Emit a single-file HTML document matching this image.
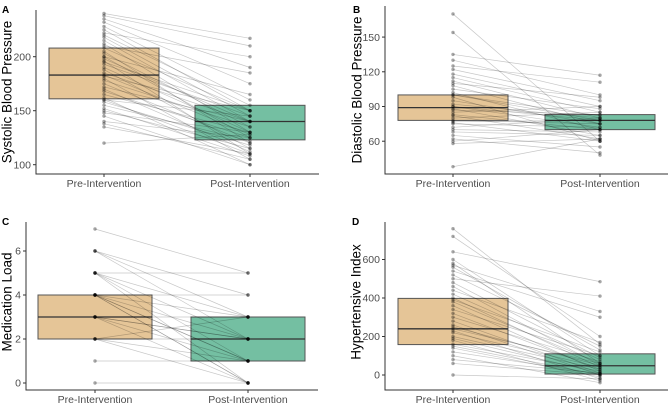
<!DOCTYPE html>
<html><head><meta charset="utf-8"><style>
body{margin:0;background:#fff;}
svg{display:block;font-family:"Liberation Sans",sans-serif;}
</style></head><body>
<svg id="c" width="669" height="407"></svg>
<script>
const groups=["Pre-Intervention","Post-Intervention"];
const aPre=[240,238,235,232,228,225,222,220,218,215,212,210,208,205,203,200,200,198,196,195,193,190,188,185,183,182,180,178,175,172,170,168,165,162,160,160,158,155,152,150,148,145,140,138,135,120];
const aPost=[217,210,190,175,160,150,200,155,145,140,130,185,150,120,135,165,125,140,110,150,145,130,115,140,128,150,105,135,120,140,112,125,130,100,110,145,118,122,108,115,130,100,125,105,110,128];
const aBox=[[161,183,208],[123,140,155]];
const aTicks=[100,150,200];
const bPre=[170,154,135,130,125,122,118,115,112,110,108,105,102,100,100,98,95,92,90,90,88,87,85,83,82,80,78,77,76,75,72,70,68,65,62,60,58,38];
const bPost=[60,48,117,100,111,95,90,85,80,98,75,88,70,82,78,60,75,80,72,78,65,83,90,70,62,85,75,78,60,72,80,68,65,55,50,70,62,62];
const bBox=[[78,89,100],[70,78,83]];
const bTicks=[60,90,120,150];
const cPre=[7,6,6,5,5,5,5,4,4,4,4,4,4,3,3,3,3,3,2,2,2,2,1,0,6,5,4];
const cPost=[5,4,2,5,1,0,3,4,2,1,0,3,1,2,1,0,3,2,1,0,2,3,1,0,3,2,0];
const cBox=[[2,3,4],[1,2,3]];
const cTicks=[0,2,4,6];
const dPre=[760,720,640,600,580,570,560,540,520,500,480,460,440,420,400,390,380,360,340,320,300,280,260,250,240,230,220,200,190,180,160,150,140,120,100,80,60,0];
const dPost=[160,200,485,100,60,330,130,300,150,410,90,50,170,80,40,120,60,20,100,30,70,10,0,50,60,-20,40,30,10,-30,20,0,-10,5,-40,10,0,-20];
const dBox=[[158,240,398],[5,48,110]];
const dTicks=[0,200,400,600];

const NS="http://www.w3.org/2000/svg";
const svg=document.getElementById('c');
function mk(tag,attrs,parent){const e=document.createElementNS(NS,tag);for(const k in attrs)e.setAttribute(k,attrs[k]);(parent||svg).appendChild(e);return e;}

const panels=[
 {id:'a',letter:'A',title:'Systolic Blood Pressure',pre:aPre,post:aPost,box:aBox,ticks:aTicks,L:36,R:319,T:10,B:174,xs:[104,250],hw:55,y0v:200,y0p:56.7,k:1.08,lx:2,ly:13,tx:7,ty:92},
 {id:'b',letter:'B',title:'Diastolic Blood Pressure',pre:bPre,post:bPost,box:bBox,ticks:bTicks,L:385,R:668,T:6,B:174,xs:[453,600],hw:55,y0v:90,y0p:106.5,k:1.157,lx:353,ly:13,tx:357,ty:90},
 {id:'c',letter:'C',title:'Medication Load',pre:cPre,post:cPost,box:cBox,ticks:cTicks,L:26,R:318,T:222,B:390,xs:[95,248],hw:57,y0v:0,y0p:383,k:22,lx:2,ly:225,tx:7,ty:302},
 {id:'d',letter:'D',title:'Hypertensive Index',pre:dPre,post:dPost,box:dBox,ticks:dTicks,L:385,R:668,T:222,B:390,xs:[453,600],hw:55,y0v:0,y0p:375,k:0.1925,lx:352,ly:225,tx:356,ty:302}
];

panels.forEach(p=>{
 const y=v=>p.y0p-(v-p.y0v)*p.k;
 const g=mk('g',{});
 
 
 const lt=mk('text',{x:p.lx,y:p.ly,'font-size':10,'font-weight':'bold',fill:'#000'},g);lt.textContent=p.letter;
 
 
 const yt=mk('text',{x:p.tx,y:p.ty,'font-size':13.5,fill:'#000','text-anchor':'middle',transform:`rotate(-90 ${p.tx} ${p.ty})`,dy:'0.35em'},g);yt.textContent=p.title;
 
 
 p.box.forEach((b,i)=>{
  const r=mk('rect',{x:p.xs[i]-p.hw,y:y(b[2]),width:2*p.hw,height:y(b[0])-y(b[2]),fill:i?'#74bfa2':'#e5c597',stroke:'#555','stroke-width':1},g);
  
  
  const m=mk('line',{x1:p.xs[i]-p.hw,x2:p.xs[i]+p.hw,y1:y(b[1]),y2:y(b[1]),stroke:'#333','stroke-width':1.3},g);
  
  
 });
 p.pre.forEach((v,i)=>{
  const l=mk('line',{x1:p.xs[0],y1:y(v),x2:p.xs[1],y2:y(p.post[i]),stroke:'#000','stroke-opacity':0.22,'stroke-width':0.7},g);
  
  
 });
 [p.pre,p.post].forEach((arr,gi)=>{
  arr.forEach(v=>{
   const c=mk('circle',{cx:p.xs[gi],cy:y(v),r:1.7,fill:'#000','fill-opacity':0.35},g);
   
   
  });
 });
 const ax=mk('path',{d:`M${p.L},${p.T}V${p.B}H${p.R}`,fill:'none',stroke:'#333','stroke-width':1},g);
 
 
 p.ticks.forEach(t=>{
  mk('line',{x1:p.L-3,x2:p.L,y1:y(t),y2:y(t),stroke:'#333'},g);
  const tt=mk('text',{x:p.L-5,y:y(t),dy:'0.35em','text-anchor':'end','font-size':10.5,fill:'#4d4d4d'},g);tt.textContent=t;
  
  
 });
 groups.forEach((gn,i)=>{
  mk('line',{x1:p.xs[i],x2:p.xs[i],y1:p.B,y2:p.B+3,stroke:'#333'},g);
  const xt=mk('text',{x:p.xs[i],y:p.B+13,'text-anchor':'middle','font-size':10.5,fill:'#4d4d4d'},g);xt.textContent=gn;
  
  
 });
});
</script>
</body></html>
